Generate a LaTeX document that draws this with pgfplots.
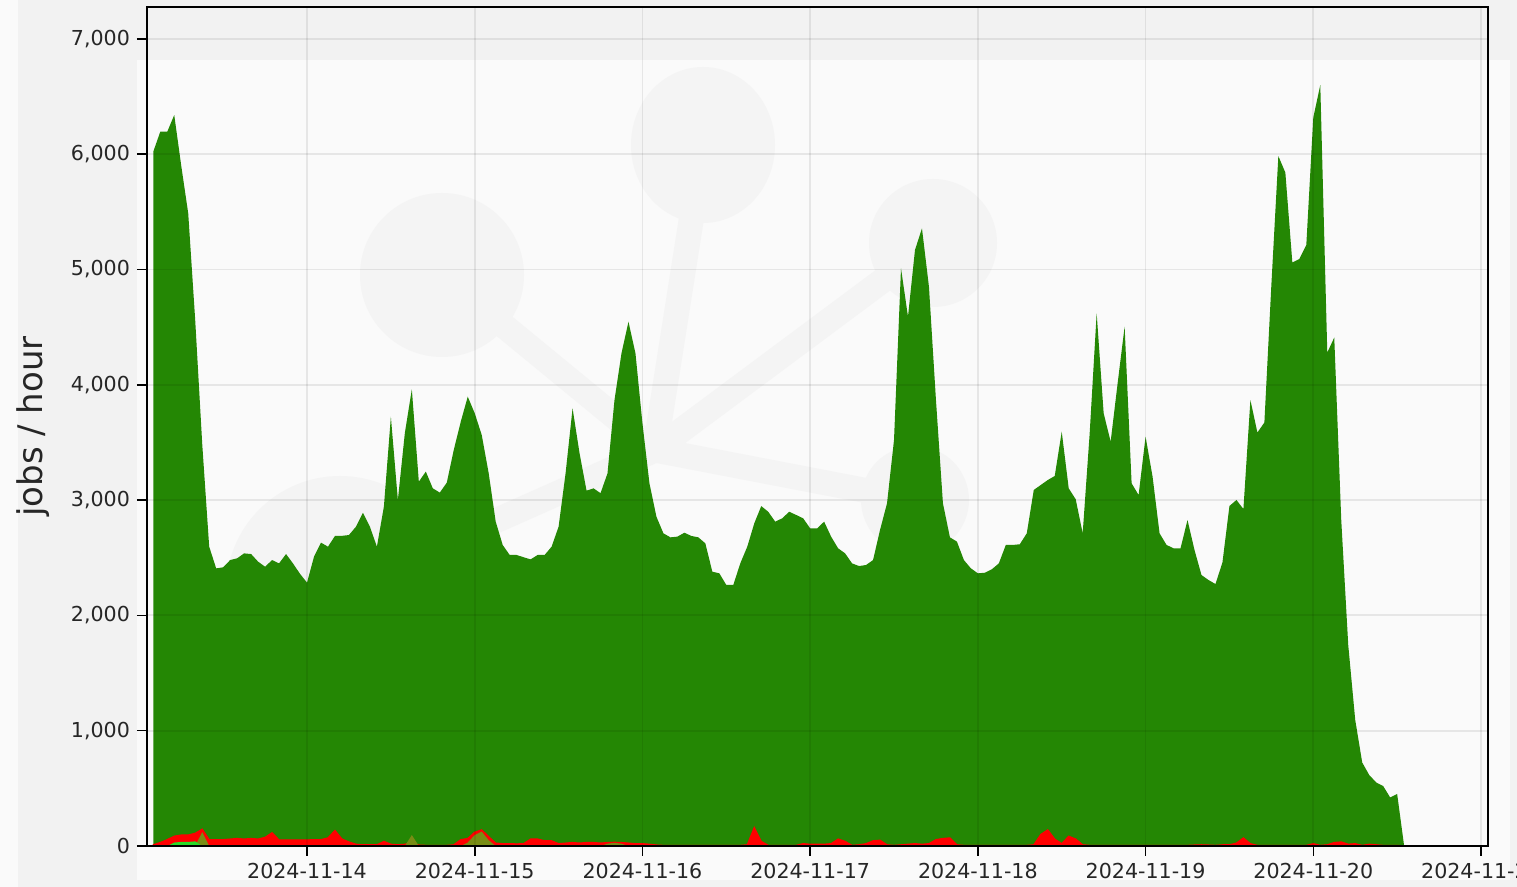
\documentclass[border=0pt]{standalone}
\usepackage{fontspec}
\setmainfont{DejaVu Sans}
\usepackage{pgfplots}
\pgfplotsset{compat=1.18}

\definecolor{jobgreen}{RGB}{36,135,4}
\definecolor{jobred}{RGB}{255,0,0}
\definecolor{jobolive}{RGB}{120,140,20}
\definecolor{joblime}{RGB}{40,220,40}
\definecolor{pagegray}{RGB}{242,242,242}
\definecolor{paneback}{RGB}{250,250,250}
\definecolor{logogray}{RGB}{244,244,244}

\begin{document}
\begin{tikzpicture}
% page background (screenshot look)
\fill[pagegray] (-73.5pt,-20.5pt) rectangle (685pt,423pt);
\fill[paneback] (-73.5pt,-20.5pt) rectangle (-64.5pt,423pt);
\fill[paneback] (-5pt,-17pt) rectangle (681.5pt,393pt);
% faint watermark logo
\begin{scope}[color=logogray, line width=12.5pt, line cap=round]
  \draw (254pt,198pt) -- (147.5pt,285.5pt);
  \draw (254pt,198pt) -- (278pt,350.5pt);
  \draw (254pt,198pt) -- (393pt,301.5pt);
  \draw (254pt,198pt) -- (384pt,173pt);
  \draw (254pt,198pt) -- (96.5pt,128pt);
  \fill (147.5pt,285.5pt) circle[radius=41pt];
  \fill (278pt,350.5pt) ellipse[x radius=36pt, y radius=39pt];
  \fill (393pt,301.5pt) circle[radius=32pt];
  \fill (384pt,173pt) circle[radius=27pt];
  \fill (96.5pt,128pt) circle[radius=57pt];
\end{scope}

\begin{axis}[
    at={(0,0)}, anchor=south west,
    scale only axis,
    width=670.5pt,
    height=419.5pt,
    xmin=1.1, xmax=193,
    ymin=0, ymax=7277,
    xtick={24,48,72,96,120,144,168,192},
    xticklabels={2024-11-14,2024-11-15,2024-11-16,2024-11-17,2024-11-18,2024-11-19,2024-11-20,2024-11-21},
    ytick={0,1000,...,7000},
    tick pos=left,
    tick align=outside,
    major tick length=5pt,
    tick style={black, line width=0.8pt},
    axis line style={black, line width=0.9pt},
    grid=major,
    grid style={black, opacity=0.08, line width=0.9pt},
    axis on top,
    ticklabel style={font=\fontsize{10.3pt}{12pt}\selectfont, text=black!85},
    /pgf/number format/assume math mode=true,
    yticklabel style={/pgf/number format/1000 sep={,}, /pgf/number format/fixed},
    scaled y ticks=false,
    ylabel={jobs / hour},
    ylabel style={at={(axis description cs:0,0.5)}, anchor=center, yshift=57pt,
        font=\fontsize{17pt}{20pt}\selectfont, text=black!85},
    clip=true,
]

% completed jobs
\addplot[fill=jobgreen, draw=none] coordinates {
(2,6022) (3,6195) (4,6195) (5,6340) (6,5900) (7,5487) (8,4560) (9,3490)
(10,2596) (11,2408) (12,2417) (13,2480) (14,2495) (15,2538) (16,2532) (17,2466)
(18,2422) (19,2480) (20,2451) (21,2532) (22,2450) (23,2360) (24,2284) (25,2509)
(26,2631) (27,2596) (28,2689) (29,2690) (30,2697) (31,2769) (32,2890) (33,2769)
(34,2596) (35,2943) (36,3723) (37,3000) (38,3582) (39,3961) (40,3160) (41,3247)
(42,3102) (43,3065) (44,3151) (45,3435) (46,3680) (47,3897) (48,3753) (49,3565)
(50,3232) (51,2813) (52,2611) (53,2524) (54,2524) (55,2504) (56,2486) (57,2524)
(58,2524) (59,2596) (60,2769) (61,3232) (62,3796) (63,3406) (64,3082) (65,3102)
(66,3060) (67,3232) (68,3868) (69,4273) (70,4547) (71,4273) (72,3666) (73,3146)
(74,2856) (75,2712) (76,2677) (77,2683) (78,2717) (79,2689) (80,2677) (81,2625)
(82,2379) (83,2365) (84,2264) (85,2264) (86,2451) (87,2596) (88,2798) (89,2948)
(90,2899) (91,2813) (92,2842) (93,2899) (94,2871) (95,2842) (96,2755) (97,2755)
(98,2813) (99,2683) (100,2582) (101,2538) (102,2451) (103,2428) (104,2437) (105,2480)
(106,2741) (107,2972) (108,3521) (109,5010) (110,4591) (111,5169) (112,5357) (113,4850)
(114,3870) (115,2972) (116,2677) (117,2640) (118,2480) (119,2408) (120,2365) (121,2370)
(122,2400) (123,2451) (124,2611) (125,2611) (126,2617) (127,2712) (128,3088) (129,3131)
(130,3174) (131,3209) (132,3593) (133,3102) (134,3007) (135,2712) (136,3579) (137,4620)
(138,3753) (139,3507) (140,4013) (141,4504) (142,3146) (143,3044) (144,3550) (145,3203)
(146,2712) (147,2611) (148,2582) (149,2582) (150,2827) (151,2567) (152,2350) (153,2307)
(154,2272) (155,2459) (156,2949) (157,3001) (158,2923) (159,3868) (160,3586) (161,3673)
(162,4866) (163,5984) (164,5841) (165,5061) (166,5091) (167,5212) (168,6318) (169,6600)
(170,4280) (171,4410) (172,2827) (173,1743) (174,1093) (175,724) (176,616) (177,551)
(178,520) (179,421) (180,451) (181,0)
} \closedcycle;

% failed jobs
\addplot[fill=jobred, draw=jobred, line width=0.6pt] coordinates {
(2,10) (3,30) (4,55) (5,85) (6,95) (7,95) (8,110) (9,146)
(10,55) (11,55) (12,55) (13,60) (14,65) (15,60) (16,65) (17,60)
(18,75) (19,115) (20,52) (21,52) (22,52) (23,52) (24,52) (25,55)
(26,55) (27,70) (28,135) (29,60) (30,35) (31,15) (32,10) (33,10)
(34,10) (35,40) (36,15) (37,10) (38,15) (39,30) (40,8) (41,5)
(42,5) (43,5) (44,5) (45,10) (46,55) (47,65) (48,120) (49,140)
(50,80) (51,25) (52,20) (53,20) (54,18) (55,20) (56,60) (57,60)
(58,45) (59,45) (60,20) (61,25) (62,30) (63,25) (64,30) (65,30)
(66,25) (67,30) (68,32) (69,30) (70,25) (71,20) (72,20) (73,15)
(74,8) (75,5) (76,5) (77,5) (78,5) (79,5) (80,5) (81,5)
(82,5) (83,5) (84,5) (85,5) (86,5) (87,10) (88,160) (89,40)
(90,5) (91,5) (92,5) (93,5) (94,5) (95,20) (96,15) (97,15)
(98,15) (99,20) (100,60) (101,40) (102,5) (103,10) (104,20) (105,45)
(106,50) (107,10) (108,5) (109,10) (110,15) (111,20) (112,15) (113,20)
(114,55) (115,65) (116,70) (117,10) (118,5) (119,5) (120,5) (121,5)
(122,5) (123,5) (124,5) (125,5) (126,5) (127,5) (128,10) (129,100)
(130,140) (131,60) (132,20) (133,85) (134,60) (135,10) (136,5) (137,5)
(138,5) (139,5) (140,5) (141,5) (142,5) (143,5) (144,5) (145,5)
(146,5) (147,5) (148,5) (149,5) (150,5) (151,8) (152,10) (153,8)
(154,5) (155,10) (156,10) (157,25) (158,70) (159,20) (160,5) (161,5)
(162,5) (163,5) (164,5) (165,5) (166,5) (167,5) (168,20) (169,5)
(170,10) (171,30) (172,35) (173,15) (174,20) (175,5) (176,15) (177,10)
(178,5) (179,5) (180,5) (181,0)
} \closedcycle;

% held / other jobs (overlap)
\addplot[fill=jobolive, draw=none] coordinates {
(8,0) (9,120) (10,0) (38,0) (39,95) (40,0) (46,0) (47,30) (48,95) (49,125) (50,50) (51,0)
(66,0) (67,20) (68,28) (69,20) (70,0)
} \closedcycle;

\addplot[fill=joblime, draw=none] coordinates {
(4,0) (5,30) (6,35) (7,35) (8,40) (9,0)
} \closedcycle;

\node[anchor=base, font=\fontsize{16pt}{19pt}\selectfont, text=black!85]
    at (axis description cs:0.5,1) [yshift=3.75pt] {8 Days from 2024-11-13 to 2024-11-21};
\end{axis}

\pgfresetboundingbox
\path[use as bounding box] (-73.5pt,-20.5pt) rectangle (685pt,423pt);
\end{tikzpicture}
\end{document}
